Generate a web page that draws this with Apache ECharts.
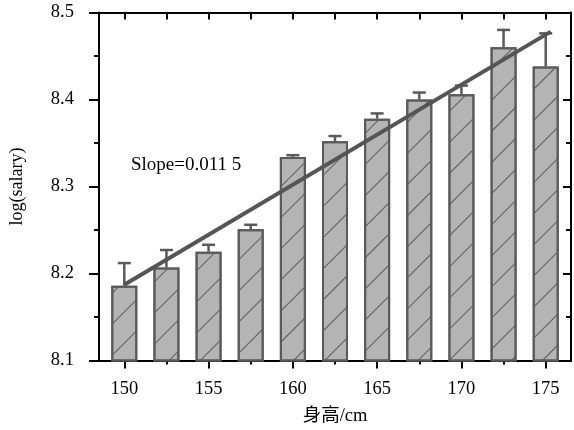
<!DOCTYPE html>
<html><head><meta charset="utf-8">
<script src="https://cdn.jsdelivr.net/npm/echarts@6/dist/echarts.min.js"></script>
<style>html,body{margin:0;padding:0;background:#fff}#c{width:574px;height:430px}</style>
</head><body><div id="c"></div>
<script>
// Data
var heights = [150, 152.5, 155, 157.5, 160, 162.5, 165, 167.5, 170, 172.5, 175];
var meanLogSalary = [8.186, 8.207, 8.225, 8.251, 8.334, 8.352, 8.378, 8.400, 8.406, 8.460, 8.438];
var errUpper = [8.212, 8.227, 8.233, 8.256, 8.336, 8.358, 8.384, 8.408, 8.416, 8.480, 8.476];
var fitX = [150, 175.3];
var fitY = [8.187, 8.478];
var majorX = [150, 155, 160, 165, 170, 175];
var minorX = [152.5, 157.5, 162.5, 167.5, 172.5];
var slopeText = 'Slope=0.011 5';

var FONT = "'Liberation Serif', 'Noto Sans CJK SC', serif";
var chart = echarts.init(document.getElementById('c'), null, {renderer: 'canvas'});

var barData = heights.map(function (h, i) { return [h, meanLogSalary[i]]; });
var errData = heights.map(function (h, i) { return [h, meanLogSalary[i], errUpper[i]]; });
var fitData = fitX.map(function (x, i) { return [x, fitY[i]]; });

var axisLine = {show: true, lineStyle: {color: '#000', width: 2}};

var option = {
  animation: false,
  backgroundColor: '#fff',
  grid: {left: 97, right: 3, top: 12.5, bottom: 66.5, containLabel: false},
  xAxis: [
    {type: 'value', min: 148.5, max: 176.5, position: 'bottom',
     axisLine: axisLine, splitLine: {show: false},
     axisTick: {show: true, customValues: majorX, length: 8, lineStyle: {color: '#000', width: 2}},
     axisLabel: {customValues: majorX, margin: 19, fontFamily: FONT, fontSize: 18.5, color: '#000'},
     name: '身高/cm', nameLocation: 'middle', nameGap: 46,
     nameTextStyle: {fontFamily: FONT, fontSize: 18.5, color: '#000'}},
    {type: 'value', min: 148.5, max: 176.5, position: 'bottom',
     axisLine: {show: false}, splitLine: {show: false},
     axisTick: {show: true, customValues: minorX, length: 4, lineStyle: {color: '#000', width: 2}},
     axisLabel: {show: false}},
    {type: 'value', min: 148.5, max: 176.5, position: 'top',
     axisLine: axisLine, splitLine: {show: false},
     axisTick: {show: true, inside: true, customValues: majorX.concat(minorX), length: 7, lineStyle: {color: '#000', width: 2}},
     axisLabel: {show: false}}
  ],
  yAxis: [
    {type: 'value', min: 8.1, max: 8.5, interval: 0.1, position: 'left',
     axisLine: axisLine, splitLine: {show: false},
     axisTick: {show: true, length: 10, lineStyle: {color: '#000', width: 2}},
     minorTick: {show: true, splitNumber: 2, length: 5, lineStyle: {color: '#000', width: 2}},
     axisLabel: {margin: 25, fontFamily: FONT, fontSize: 18.5, color: '#000',
       formatter: function (v) { return v.toFixed(1); }},
     name: 'log(salary)', nameLocation: 'middle', nameGap: 73, nameRotate: 90,
     nameTextStyle: {fontFamily: FONT, fontSize: 18, color: '#000'}},
    {type: 'value', min: 8.1, max: 8.5, interval: 0.1, position: 'right',
     axisLine: axisLine, splitLine: {show: false},
     axisTick: {show: true, inside: true, length: 8, lineStyle: {color: '#000', width: 2}},
     minorTick: {show: true, splitNumber: 2, length: 5, lineStyle: {color: '#000', width: 2}},
     axisLabel: {show: false}}
  ],
  series: [
    {type: 'bar', xAxisIndex: 0, yAxisIndex: 0, data: barData, barWidth: 26,
     itemStyle: {color: '#b4b4b4', borderColor: '#5a5a5a', borderWidth: 2,
       decal: {symbol: 'rect', symbolSize: 1, dashArrayX: [[1, 0]], dashArrayY: [1, 21],
               rotation: -Math.PI / 4, color: '#5a5a5a'}},
     z: 2},
    {type: 'custom', xAxisIndex: 0, yAxisIndex: 0, data: errData, z: 3,
     renderItem: function (params, api) {
       var x = api.value(0);
       var lo = api.coord([x, api.value(1)]);
       var hi = api.coord([x, api.value(2)]);
       var cap = 6.5;
       var style = {stroke: '#5a5a5a', lineWidth: 2.5, fill: null};
       return {type: 'group', children: [
         {type: 'line', shape: {x1: lo[0], y1: lo[1], x2: hi[0], y2: hi[1]}, style: style},
         {type: 'line', shape: {x1: hi[0] - cap, y1: hi[1], x2: hi[0] + cap, y2: hi[1]}, style: style}
       ]};
     }},
    {type: 'line', xAxisIndex: 0, yAxisIndex: 0, data: fitData, symbol: 'none', z: 4,
     lineStyle: {color: '#555', width: 4}}
  ],
  graphic: [
    {type: 'text', left: 131, top: 156, z: 10,
     style: {text: slopeText, fontFamily: FONT, fontSize: 19, fill: '#000'}}
  ]
};
chart.setOption(option);
</script>
</body></html>
